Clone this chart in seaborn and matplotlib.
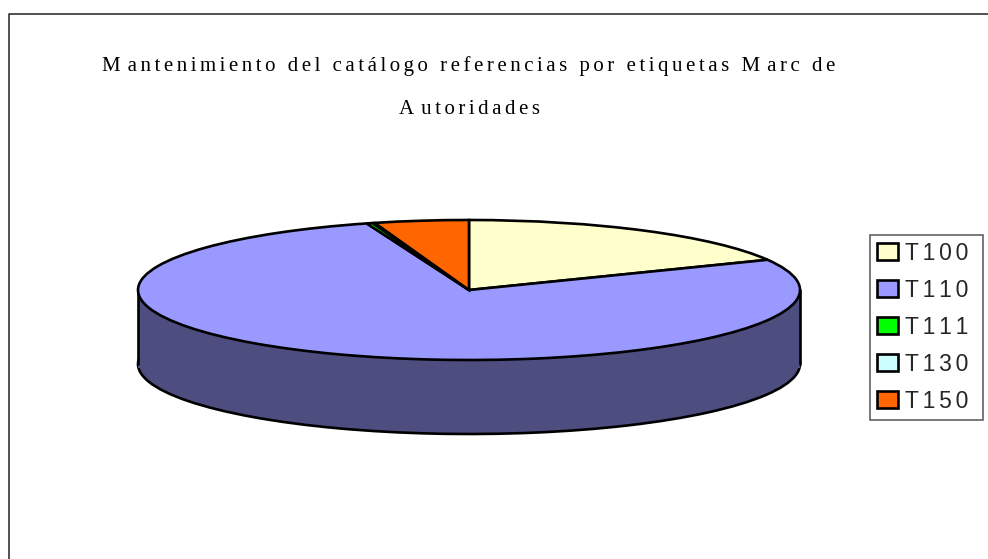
import matplotlib
matplotlib.use("Agg")
import matplotlib.pyplot as plt
from matplotlib.lines import Line2D
import seaborn as sns

labels = ["T100", "T110", "T111", "T130", "T150"]
values = [17.9, 77.1, 0.3, 0.1, 4.6]
top_colors = ["#FFFFCC", "#9999FF", "#00FF00", "#CCFFFF", "#FF6600"]
side_colors = ["#80805F", "#4D4D80", "#008000", "#668080", "#803300"]
title_lines = ["Mantenimiento del catálogo referencias por etiquetas Marc de", "Autoridades"]

sns.set_theme(style="white")
plt.rcParams["font.family"] = ["Liberation Serif", "DejaVu Serif"]


def spaced(text, n=2):
    # no letter spacing in matplotlib, so put hair spaces between the letters
    out = ("\u200a" * n).join(text)
    # capitals sit a bit apart from the next letter in the original
    for cap in "MA":
        out = out.replace(cap + "\u200a" * n, cap + "\u200a" * (n + 2))
    return out


fig = plt.figure(figsize=(9.88, 5.59), dpi=100, facecolor="white")
ax = fig.add_axes([0, 0, 1, 1])

palette = sns.color_palette(top_colors)
side_palette = sns.color_palette(side_colors)
edge = {"edgecolor": "black", "linewidth": 1.9}

# side wall first, the top pie goes over it
depth = 74 / 70
ax.pie(values, colors=side_palette, startangle=90, counterclock=False,
       center=(0, -depth), wedgeprops=edge)
ax.fill_between([-1, 1], -depth - 0.06, 0, color=side_palette[1], zorder=2, linewidth=0)
ax.vlines([-1, 1], -depth, 0, color="black", linewidth=1.9, zorder=3, capstyle="round")
wedges, _ = ax.pie(values, colors=palette, startangle=90, counterclock=False,
                   wedgeprops={**edge, "zorder": 4})

ax.set_aspect("auto")
ax.set_xlim(-469 / 331, (988 - 469) / 331)
ax.set_ylim((290 - 559) / 70, 290 / 70)
ax.axis("off")

# chart area border, only left and top show
fig.add_artist(Line2D([9 / 988, 9 / 988, 1], [0, 1 - 13.5 / 559, 1 - 13.5 / 559],
                      color="#222222", linewidth=1.1))

fig.text(469 / 988, 1 - 66 / 559, spaced(title_lines[0]), ha="center", va="center",
         fontsize=15, color="black")
fig.text(469 / 988, 1 - 110 / 559, spaced(title_lines[1]), ha="center", va="center",
         fontsize=15, color="black")

leg = fig.legend(wedges, [spaced(s, 2) + "\u200a" * 4 for s in labels], loc="upper left",
                 bbox_to_anchor=(870 / 988, 1 - 235 / 559), bbox_transform=fig.transFigure,
                 prop={"family": ["Liberation Sans", "DejaVu Sans"], "size": 16.5},
                 frameon=True, fancybox=False, framealpha=1, edgecolor="#555555",
                 handlelength=0.92, handleheight=0.75, handletextpad=0.3,
                 labelspacing=0.61, borderpad=0.3, borderaxespad=0)
leg.get_frame().set_linewidth(1.1)

fig.savefig("out.png", dpi=100)
plt.close(fig)
